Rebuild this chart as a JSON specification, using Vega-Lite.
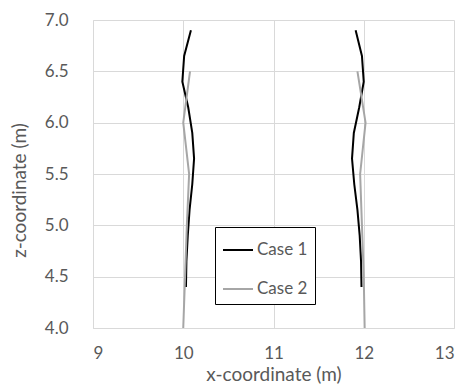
{
  "$schema": "https://vega.github.io/schema/vega-lite/v6.json",
  "width": 361,
  "height": 308,
  "autosize": "none",
  "padding": {"left": 93, "top": 20, "right": 10, "bottom": 61},
  "background": "white",
  "config": {
    "font": "Lato",
    "view": {"stroke": null},
    "axis": {
      "labelFont": "Lato",
      "titleFont": "Lato",
      "labelFontSize": 17,
      "titleFontSize": 19,
      "titleFontWeight": "normal",
      "labelColor": "#595959",
      "titleColor": "#595959",
      "gridColor": "#d9d9d9",
      "domainColor": "#d9d9d9",
      "ticks": false
    }
  },
  "data": {
    "values": [
      {"case": "Case 1", "side": "L", "x": 10.03, "z": 4.4},
      {"case": "Case 1", "side": "L", "x": 10.035, "z": 4.65},
      {"case": "Case 1", "side": "L", "x": 10.05, "z": 4.9},
      {"case": "Case 1", "side": "L", "x": 10.07, "z": 5.15},
      {"case": "Case 1", "side": "L", "x": 10.1, "z": 5.4},
      {"case": "Case 1", "side": "L", "x": 10.12, "z": 5.65},
      {"case": "Case 1", "side": "L", "x": 10.1, "z": 5.9},
      {"case": "Case 1", "side": "L", "x": 10.055, "z": 6.15},
      {"case": "Case 1", "side": "L", "x": 9.99, "z": 6.4},
      {"case": "Case 1", "side": "L", "x": 10.01, "z": 6.65},
      {"case": "Case 1", "side": "L", "x": 10.085, "z": 6.9},
      {"case": "Case 1", "side": "R", "x": 11.975, "z": 4.4},
      {"case": "Case 1", "side": "R", "x": 11.97, "z": 4.65},
      {"case": "Case 1", "side": "R", "x": 11.955, "z": 4.9},
      {"case": "Case 1", "side": "R", "x": 11.93, "z": 5.15},
      {"case": "Case 1", "side": "R", "x": 11.895, "z": 5.4},
      {"case": "Case 1", "side": "R", "x": 11.87, "z": 5.65},
      {"case": "Case 1", "side": "R", "x": 11.89, "z": 5.9},
      {"case": "Case 1", "side": "R", "x": 11.95, "z": 6.15},
      {"case": "Case 1", "side": "R", "x": 12.0, "z": 6.4},
      {"case": "Case 1", "side": "R", "x": 11.98, "z": 6.65},
      {"case": "Case 1", "side": "R", "x": 11.91, "z": 6.9},
      {"case": "Case 2", "side": "L", "x": 10.0, "z": 4.0},
      {"case": "Case 2", "side": "L", "x": 10.02, "z": 4.5},
      {"case": "Case 2", "side": "L", "x": 10.04, "z": 5.0},
      {"case": "Case 2", "side": "L", "x": 10.065, "z": 5.5},
      {"case": "Case 2", "side": "L", "x": 10.0, "z": 6.0},
      {"case": "Case 2", "side": "L", "x": 10.075, "z": 6.5},
      {"case": "Case 2", "side": "R", "x": 12.01, "z": 4.0},
      {"case": "Case 2", "side": "R", "x": 12.0, "z": 4.5},
      {"case": "Case 2", "side": "R", "x": 11.98, "z": 5.0},
      {"case": "Case 2", "side": "R", "x": 11.96, "z": 5.5},
      {"case": "Case 2", "side": "R", "x": 12.02, "z": 6.0},
      {"case": "Case 2", "side": "R", "x": 11.93, "z": 6.5}
    ]
  },
  "mark": {"type": "line", "strokeWidth": 2},
  "encoding": {
    "x": {
      "field": "x",
      "type": "quantitative",
      "scale": {"domain": [9, 13], "nice": false, "zero": false},
      "axis": {"values": [9, 10, 11, 12, 13], "title": "x-coordinate (m)", "labelPadding": 17, "titlePadding": 4}
    },
    "y": {
      "field": "z",
      "type": "quantitative",
      "scale": {"domain": [4, 7], "nice": false, "zero": false},
      "axis": {"values": [4, 4.5, 5, 5.5, 6, 6.5, 7], "format": ".1f", "title": "z-coordinate (m)", "labelPadding": 25, "titlePadding": 15, "titleY": 170}
    },
    "order": {"field": "z", "type": "quantitative"},
    "detail": {"field": "side"},
    "color": {
      "field": "case",
      "type": "nominal",
      "scale": {"domain": ["Case 1", "Case 2"], "range": ["#000000", "#a6a6a6"]},
      "legend": {
        "title": null,
        "orient": "none",
        "legendX": 122,
        "legendY": 207,
        "symbolType": "stroke",
        "symbolSize": 900,
        "symbolStrokeWidth": 2,
        "labelFont": "Lato",
        "labelFontSize": 17,
        "labelColor": "#595959",
        "labelOffset": 3,
        "rowPadding": 15,
        "padding": 7,
        "strokeColor": "#000000",
        "fillColor": "#ffffff"
      }
    }
  }
}
